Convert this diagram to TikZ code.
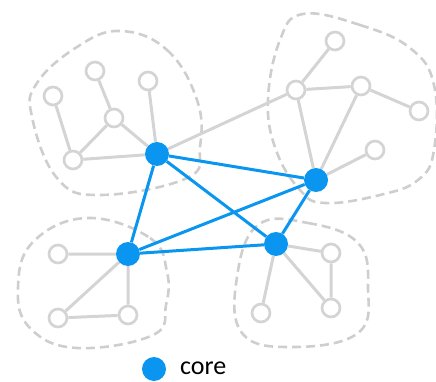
\documentclass[tikz,border=0pt]{standalone}
\usepackage{fontspec}
\setmainfont{Carlito}
\usetikzlibrary{backgrounds}
\definecolor{coreblue}{RGB}{10,150,240}
\definecolor{edgegray}{RGB}{212,212,212}
\definecolor{blobgray}{RGB}{206,206,206}
\begin{document}
\begin{tikzpicture}[x=1pt,y=-1pt,
  leaf/.style={circle,draw=edgegray,line width=2.7pt,fill=white,minimum size=18pt,inner sep=0pt},
  corenode/.style={circle,fill=coreblue,minimum size=24pt,inner sep=0pt},
  gedge/.style={draw=edgegray,line width=3pt},
  bedge/.style={draw=coreblue,line width=3pt},
  blob/.style={draw=blobgray,line width=2.6pt,dash pattern=on 9pt off 5pt}]
\useasboundingbox (0,0) rectangle (436,382);
% nodes
\node[corenode] (c1) at (157,154) {};
\node[corenode] (c2) at (316,180) {};
\node[corenode] (c3) at (128,254) {};
\node[corenode] (c4) at (276,244) {};
\node[leaf] (a1) at (53,96) {};
\node[leaf] (a2) at (95,71) {};
\node[leaf] (a3) at (148,81) {};
\node[leaf] (a4) at (114,118) {};
\node[leaf] (a5) at (73,160) {};
\node[leaf] (b1) at (296,90) {};
\node[leaf] (b2) at (335,41) {};
\node[leaf] (b3) at (361,86) {};
\node[leaf] (b4) at (419,111) {};
\node[leaf] (b5) at (375,150) {};
\node[leaf] (d1) at (58,254) {};
\node[leaf] (d2) at (58,318) {};
\node[leaf] (d3) at (128,315) {};
\node[leaf] (e1) at (331,253) {};
\node[leaf] (e2) at (331,308) {};
\node[leaf] (e3) at (261,313) {};
\begin{pgfonlayer}{background}
% blobs
\draw[blob] plot[smooth cycle,tension=0.7] coordinates {(120,31) (167,50) (197,100) (200,147) (187,178) (100,195) (57,178) (32,117) (37,83) (77,47)};
\draw[blob] plot[smooth cycle,tension=0.7] coordinates {(303,14) (360,25) (410,48) (434,85) (434,150) (418,180) (380,195) (325,203) (300,190) (276,150) (268,100) (280,40)};
\draw[blob] plot[smooth cycle,tension=0.7] coordinates {(87,218) (150,238) (167,272) (166,305) (153,335) (77,348) (30,328) (18,288) (33,242)};
\draw[blob] plot[smooth cycle,tension=0.7] coordinates {(258,225) (308,223) (358,243) (368,287) (358,333) (292,347) (242,333) (237,277)};
% gray edges
\path[gedge] (a1) -- (a5) (a2) -- (a4) (a4) -- (a5) (a4) -- (c1) (a3) -- (c1) (a5) -- (c1) (c1) -- (b1)
  (b1) -- (b2) (b1) -- (b3) (b3) -- (b4) (b1) -- (c2) (b3) -- (c2) (b5) -- (c2)
  (d1) -- (c3) (c3) -- (d3) (d2) -- (d3) (d2) -- (c3)
  (c4) -- (e1) (e1) -- (e2) (c4) -- (e2) (c4) -- (e3);
% blue edges
\path[bedge] (c1) -- (c2) (c1) -- (c3) (c1) -- (c4) (c2) -- (c3) (c2) -- (c4) (c3) -- (c4);
\end{pgfonlayer}
% legend
\node[corenode] (leg) at (154,369) {};
\node[anchor=west,font=\fontsize{26}{28}\selectfont,inner sep=0pt] (legtext) at (180,368) {core};
\end{tikzpicture}
\end{document}
